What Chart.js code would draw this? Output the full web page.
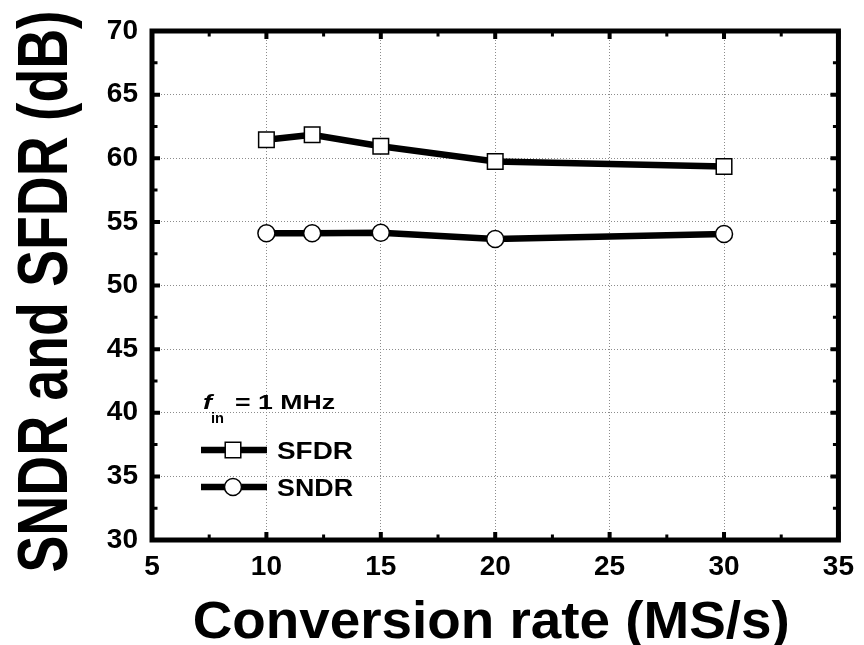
<!DOCTYPE html>
<html>
<head>
<meta charset="utf-8">
<script src="https://cdn.jsdelivr.net/npm/chart.js@4"></script>
<style>
  html, body { margin: 0; padding: 0; background: #fff; }
  #chart { display: block; }
</style>
</head>
<body>
<canvas id="chart" width="864" height="645"></canvas>
<script>
const rates = [10, 12, 15, 20, 30];
const sfdr = [61.45, 61.85, 60.95, 59.75, 59.35];
const sndr = [54.1, 54.1, 54.15, 53.65, 54.05];
const xTicks = [5, 10, 15, 20, 25, 30, 35];
const yTicks = [30, 35, 40, 45, 50, 55, 60, 65, 70];

const FONT = '"Liberation Sans", Arial, sans-serif';

// draw text stretched/squeezed horizontally to the given width
function fitText(ctx, text, x, y, font, width, align) {
    ctx.font = font;
    const s = width / ctx.measureText(text).width;
    ctx.save();
    ctx.translate(x, y);
    ctx.scale(s, 1);
    ctx.textAlign = align;
    ctx.fillText(text, 0, 0);
    ctx.restore();
}

// thick frame with inward major/minor ticks on all four sides
const frame = {
    id: 'frame',
    beforeDatasetsDraw(chart) {
        const { ctx, chartArea: a, scales: { x, y } } = chart;
        ctx.save();
        ctx.strokeStyle = '#000';
        for (let v = x.min; v <= x.max + 0.01; v += 2.5) {
            const major = xTicks.includes(v);
            const len = major ? 8 : 5.5;
            const px = x.getPixelForValue(v);
            ctx.lineWidth = major ? 4 : 3;
            ctx.beginPath();
            ctx.moveTo(px, a.bottom); ctx.lineTo(px, a.bottom - len);
            ctx.moveTo(px, a.top); ctx.lineTo(px, a.top + len);
            ctx.stroke();
        }
        for (let v = y.min; v <= y.max + 0.01; v += 2.5) {
            const major = yTicks.includes(v);
            const len = major ? 8 : 5.5;
            const py = y.getPixelForValue(v);
            ctx.lineWidth = major ? 4 : 3;
            ctx.beginPath();
            ctx.moveTo(a.left, py); ctx.lineTo(a.left + len, py);
            ctx.moveTo(a.right, py); ctx.lineTo(a.right - len, py);
            ctx.stroke();
        }
        ctx.lineWidth = 5;
        ctx.strokeRect(a.left, a.top, a.right - a.left, a.bottom - a.top);
        ctx.restore();
    }
};

// axis titles and the hand-made legend
const notes = {
    id: 'notes',
    afterDraw(chart) {
        const { ctx, chartArea: a } = chart;
        ctx.save();
        ctx.fillStyle = '#000';
        ctx.textBaseline = 'alphabetic';

        fitText(ctx, 'Conversion rate (MS/s)', (a.left + a.right) / 2 - 4, 638, 'bold 51px ' + FONT, 597, 'center');

        ctx.save();
        ctx.translate(67, (a.top + a.bottom) / 2 + 6);
        ctx.rotate(-Math.PI / 2);
        fitText(ctx, 'SNDR and SFDR (dB)', 0, 0, 'bold 70px ' + FONT, 562, 'center');
        ctx.restore();

        // f_in = 1 MHz
        fitText(ctx, 'f', 203, 409, 'italic bold 21px ' + FONT, 9, 'left');
        fitText(ctx, 'in', 211, 423, 'bold 14px ' + FONT, 13, 'left');
        fitText(ctx, '= 1 MHz', 235, 409, 'bold 19.5px ' + FONT, 100, 'left');

        const items = [[0, 450, 'SFDR'], [1, 487, 'SNDR']];
        items.forEach(([i, ly, label]) => {
            const ds = chart.data.datasets[i];
            ctx.strokeStyle = '#000';
            ctx.lineWidth = ds.borderWidth;
            ctx.beginPath();
            ctx.moveTo(201, ly); ctx.lineTo(267, ly);
            ctx.stroke();
            ctx.fillStyle = '#fff';
            ctx.lineWidth = ds.pointBorderWidth;
            Chart.helpers.drawPoint(ctx, {
                pointStyle: ds.pointStyle, radius: ds.pointRadius,
                rotation: 0, borderWidth: ds.pointBorderWidth
            }, 233, ly);
            ctx.fillStyle = '#000';
            fitText(ctx, label, 277, ly + 8.5, 'bold 23px ' + FONT, 76, 'left');
        });
        ctx.restore();
    }
};

const tickFont = { family: FONT, size: 28, weight: 'bold' };

new Chart(document.getElementById('chart').getContext('2d'), {
    type: 'line',
    data: {
        datasets: [{
            label: 'SFDR',
            data: rates.map((r, i) => ({ x: r, y: sfdr[i] })),
            borderColor: '#000',
            borderWidth: 6.5,
            pointStyle: 'rect',
            pointRadius: 11,
            pointBackgroundColor: '#fff',
            pointBorderColor: '#000',
            pointBorderWidth: 1.5,
            tension: 0,
            clip: false
        }, {
            label: 'SNDR',
            data: rates.map((r, i) => ({ x: r, y: sndr[i] })),
            borderColor: '#000',
            borderWidth: 6.5,
            pointStyle: 'circle',
            pointRadius: 8.5,
            pointBackgroundColor: '#fff',
            pointBorderColor: '#000',
            pointBorderWidth: 1.5,
            tension: 0,
            clip: false
        }]
    },
    options: {
        responsive: false,
        animation: false,
        events: [],
        layout: { padding: { top: 31, right: 21, left: 0, bottom: 0 } },
        plugins: { legend: { display: false }, tooltip: { enabled: false } },
        scales: {
            x: {
                type: 'linear',
                min: xTicks[0],
                max: xTicks[xTicks.length - 1],
                afterBuildTicks: s => { s.ticks = xTicks.map(v => ({ value: v })); },
                afterFit: s => { s.height = 105; },
                ticks: { font: tickFont, color: '#000', padding: 10, maxRotation: 0 },
                grid: { color: '#8c8c8c', lineWidth: 1, drawTicks: false },
                border: { display: false, dash: [1, 2] }
            },
            y: {
                min: yTicks[0],
                max: yTicks[yTicks.length - 1],
                afterBuildTicks: s => { s.ticks = yTicks.map(v => ({ value: v })); },
                afterFit: s => { s.width = 152; },
                ticks: { font: tickFont, color: '#000', padding: 14 },
                grid: { color: '#8c8c8c', lineWidth: 1, drawTicks: false },
                border: { display: false, dash: [1, 2] }
            }
        }
    },
    plugins: [frame, notes]
});
</script>
</body>
</html>
